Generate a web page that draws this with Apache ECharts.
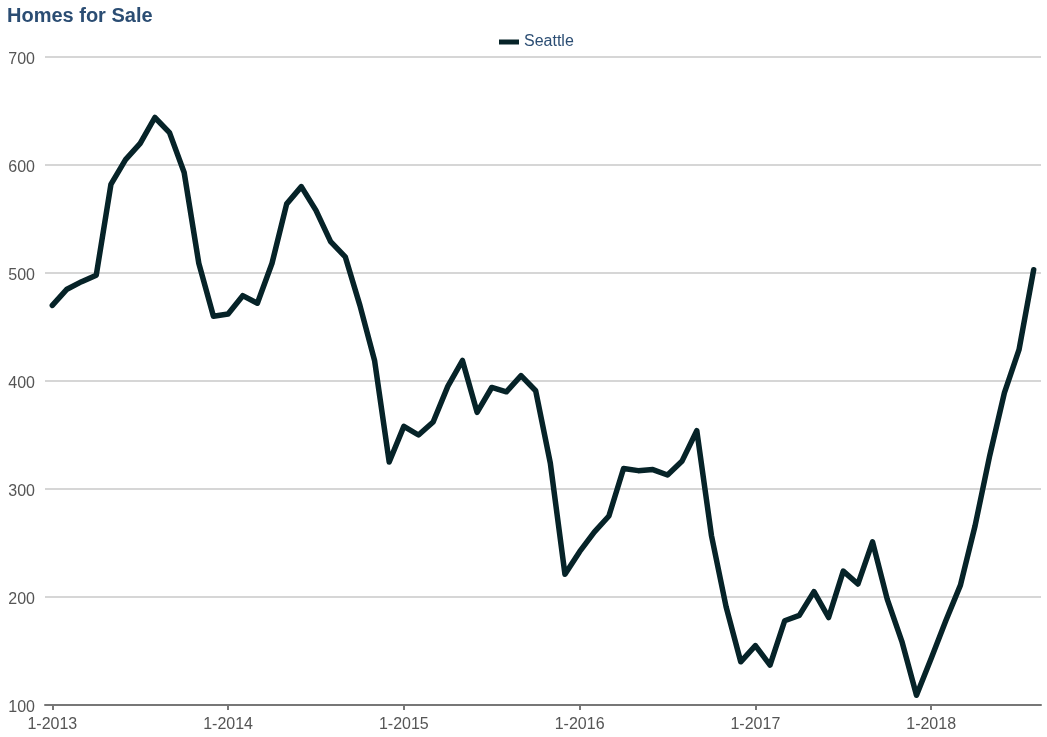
<!DOCTYPE html>
<html>
<head>
<meta charset="utf-8">
<script src="https://cdn.jsdelivr.net/npm/echarts@6/dist/echarts.min.js"></script>
<style>
html,body{margin:0;padding:0;background:#fff;}
#chart{width:1047px;height:737px;}
</style>
</head>
<body>
<div id="chart"></div>
<script>
const years = ['2013','2014','2015','2016','2017','2018'];
const lastMonth2018 = 8;
const categories = [];
years.forEach(y => {
  const maxM = (y === '2018') ? lastMonth2018 : 12;
  for (let m = 1; m <= maxM; m++) categories.push(m + '-' + y);
});
const seattle = [
  470, 485, 492, 498, 582, 605, 620, 644, 630, 593, 509, 460,
  462, 479, 472, 509, 564, 580, 558, 529, 515, 470, 419, 325,
  358, 350, 362, 395, 419, 371, 394, 390, 405, 391, 324, 221,
  242, 260, 275, 319, 317, 318, 313, 326, 354, 257, 191, 140,
  155, 137, 178, 183, 205, 181, 224, 212, 251, 198, 159, 109,
  143, 178, 211, 266, 331, 389, 429, 503
];
const seriesName = 'Seattle';
const titleText = 'Homes for Sale';

const chart = echarts.init(document.getElementById('chart'));
chart.setOption({
  animation: false,
  backgroundColor: '#ffffff',
  title: {
    text: titleText,
    left: 2, top: 1,
    textStyle: { fontFamily: 'Liberation Sans, Arial, sans-serif', fontSize: 20, fontWeight: 'bold', color: '#2b4d73' }
  },
  legend: {
    data: [{ name: seriesName, icon: 'rect' }],
    left: 494, top: 29,
    itemWidth: 20, itemHeight: 5, itemGap: 8,
    textStyle: { fontFamily: 'Liberation Sans, Arial, sans-serif', fontSize: 16, color: '#2b4d73' }
  },
  grid: { left: 45, right: 6, top: 57, bottom: 32, containLabel: false },
  xAxis: {
    type: 'category',
    data: categories,
    boundaryGap: true,
    axisLine: { lineStyle: { color: '#777777', width: 2 } },
    axisTick: { show: true, alignWithLabel: true, interval: 11, length: 5, lineStyle: { color: '#777777', width: 2 } },
    axisLabel: { interval: 11, margin: 12, fontFamily: 'Liberation Sans, Arial, sans-serif', fontSize: 16, color: '#555555' },
    splitLine: { show: false }
  },
  yAxis: {
    type: 'value',
    min: 100, max: 700, interval: 100,
    axisLine: { show: false },
    axisTick: { show: false },
    axisLabel: {
      margin: 10,
      formatter: '{v|{value}}',
      rich: { v: { fontFamily: 'Liberation Sans, Arial, sans-serif', fontSize: 16, color: '#555555', padding: [6, 0, 0, 0] } }
    },
    splitLine: { lineStyle: { color: '#c8c8c8', width: 1.5 } }
  },
  series: [{
    name: seriesName,
    type: 'line',
    data: seattle,
    showSymbol: false,
    symbol: 'none',
    lineStyle: { color: '#062328', width: 5.5, join: 'round', cap: 'round' },
    itemStyle: { color: '#062328' }
  }]
});
</script>
</body>
</html>
